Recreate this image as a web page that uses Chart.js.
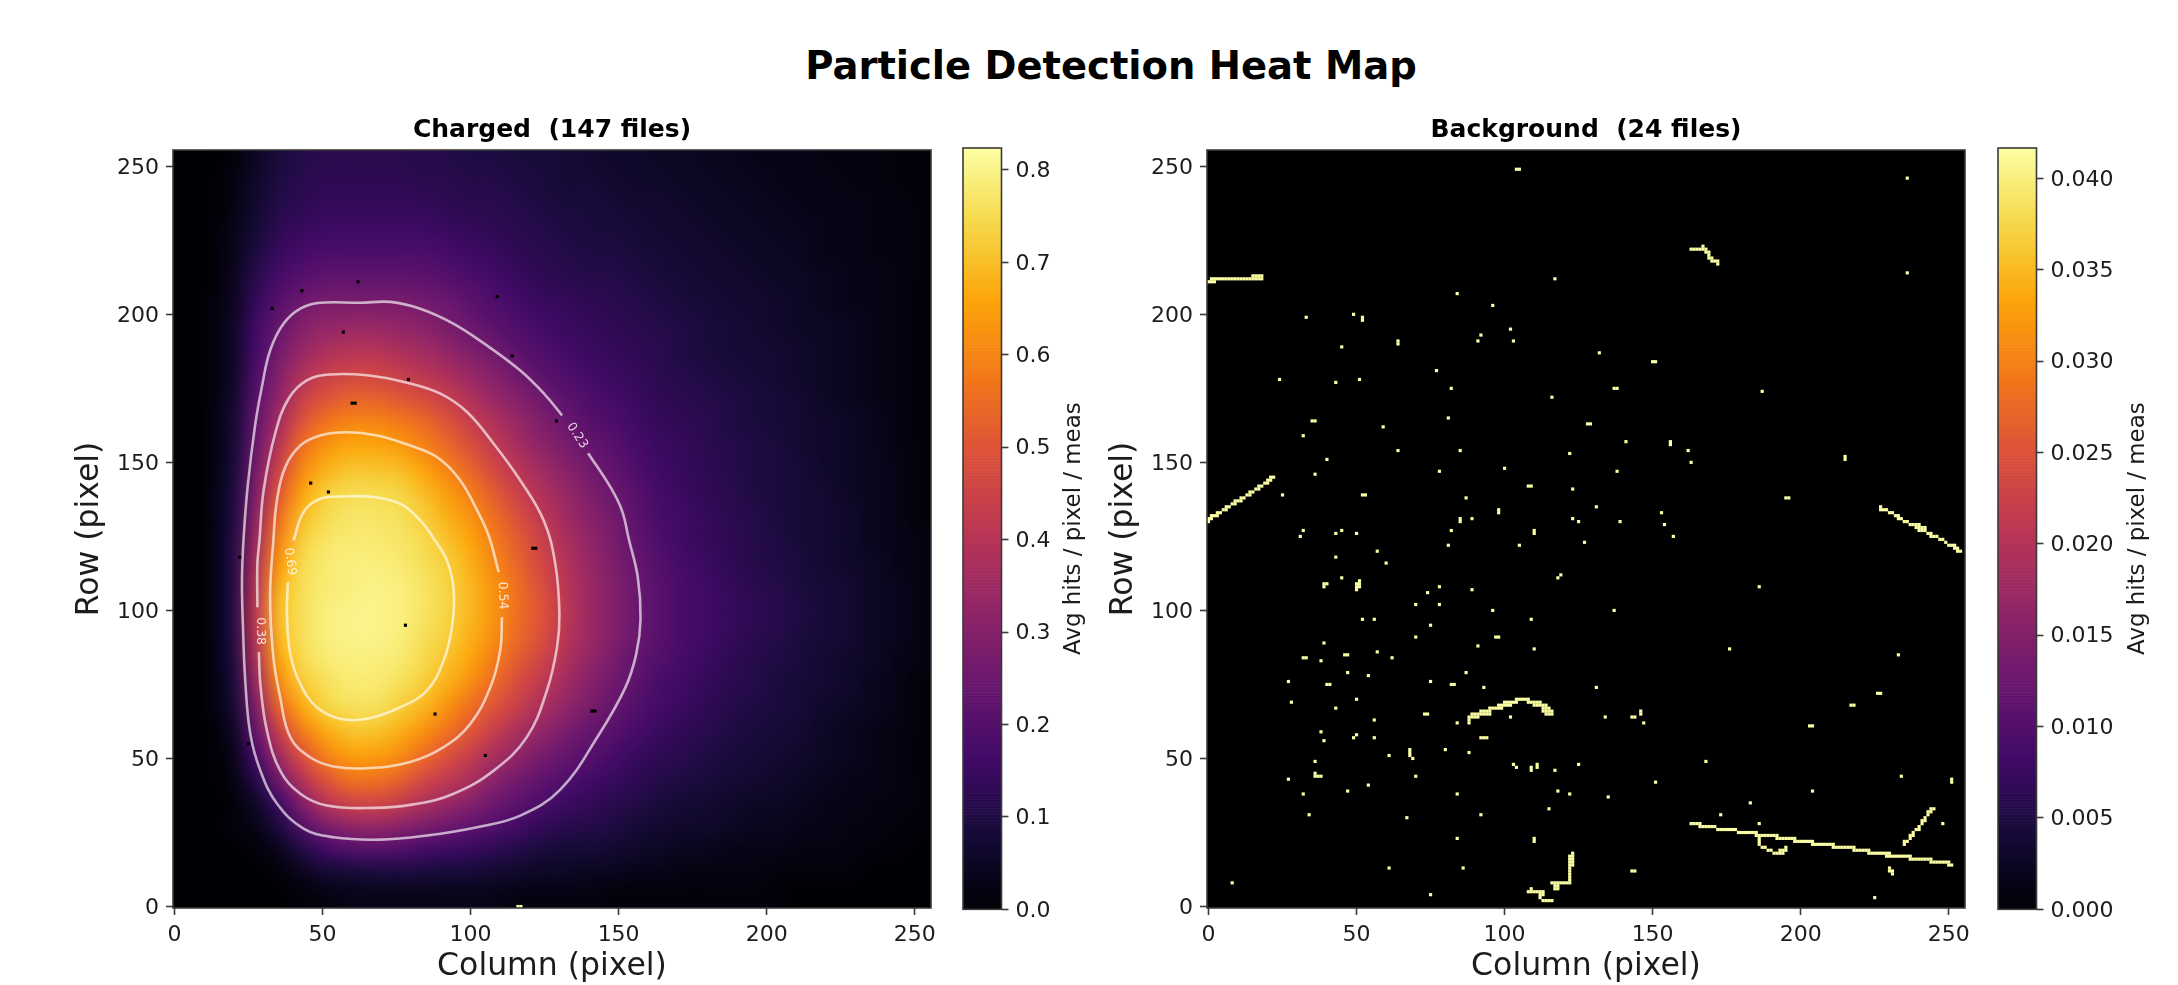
<!DOCTYPE html>
<html><head><meta charset="utf-8">
<style>
html,body{margin:0;padding:0;background:#fff;width:2178px;height:985px;overflow:hidden}
canvas{position:absolute;left:0;top:0}
#sup{position:absolute;left:0;width:2222px;top:43px;text-align:center;font:bold 38.5px "DejaVu Sans";color:#000;line-height:46px}
</style>
<script src="https://cdn.jsdelivr.net/npm/chart.js@4/dist/chart.umd.min.js"></script>
</head><body>
<div id="sup">Particle Detection Heat Map</div>
<canvas id="c1" width="2178" height="985"></canvas>
<canvas id="c2" width="2178" height="985"></canvas>
<canvas id="c3" width="2178" height="985"></canvas>
<canvas id="c4" width="2178" height="985"></canvas>
<script>
const axisTicks=[0,50,100,150,200,250];
const chargedBarTicks=[0,0.1,0.2,0.3,0.4,0.5,0.6,0.7,0.8];
const backgroundBarTicks=[0,0.005,0.01,0.015,0.02,0.025,0.03,0.035,0.04];
const chargedMax=0.8238, backgroundMax=0.04166;
const chargedTitle='Charged  (147 files)', backgroundTitle='Background  (24 files)';
// Estimated mean hits (x100), 8-pixel blocks; first row is the top of the image (row 251.5), first column is column 3.5
const chargedGrid=[
[0,0,1,5,9,11,12,12,12,12,11,11,10,10,9,9,8,7,6,6,5,5,4,4,3,3,3,2,2,2,1,1],
[0,0,2,6,10,12,13,13,13,13,12,12,11,11,10,9,8,8,7,6,6,5,5,4,4,3,3,3,2,2,1,1],
[0,0,2,7,11,13,14,14,14,14,14,13,12,12,11,10,9,9,8,7,7,6,5,5,4,4,3,3,3,2,2,1],
[0,0,3,8,13,15,16,16,16,16,16,15,14,13,12,11,10,9,9,8,7,7,6,5,5,4,4,3,3,2,2,1],
[0,0,3,10,15,18,19,19,19,19,19,18,16,15,13,12,11,10,10,9,8,7,7,6,5,5,4,3,3,2,2,1],
[0,0,4,12,18,21,23,23,23,23,22,21,19,17,15,13,12,11,11,10,9,8,7,7,6,5,5,4,3,3,2,1],
[0,1,4,14,21,26,28,28,28,28,27,25,22,19,17,15,14,13,12,11,10,9,8,7,7,6,5,4,3,3,2,1],
[0,1,5,16,24,30,33,34,34,33,31,28,25,22,19,17,15,14,13,12,11,10,9,8,7,6,5,5,4,3,2,1],
[0,1,5,17,27,34,38,40,40,38,36,33,29,26,22,19,17,15,14,13,12,10,9,8,8,7,6,5,4,3,2,1],
[0,1,5,19,30,39,44,46,46,44,41,38,34,30,26,22,19,17,15,14,12,11,10,9,8,7,6,5,4,3,2,1],
[0,1,6,21,33,44,50,53,53,51,48,44,39,34,30,26,22,19,17,15,13,12,11,10,9,8,7,5,4,3,2,1],
[0,1,7,23,37,50,57,60,60,58,55,50,44,39,34,29,25,21,19,16,14,13,12,10,9,8,7,6,5,4,2,1],
[0,1,7,25,41,56,63,66,66,64,60,55,49,43,37,32,28,24,21,18,15,14,12,11,10,9,7,6,5,4,2,1],
[0,1,8,27,46,61,68,71,71,70,66,60,54,47,41,36,31,27,23,19,16,14,13,11,10,9,8,6,5,4,3,1],
[0,1,9,29,51,66,73,75,75,74,70,65,59,52,45,39,34,29,25,21,17,15,13,12,10,9,8,7,5,4,3,1],
[0,1,9,32,56,70,75,77,77,76,73,68,63,56,49,42,36,31,27,22,18,16,14,12,11,9,8,7,6,4,3,1],
[0,1,10,35,60,73,77,78,78,77,75,71,66,59,52,45,38,33,28,23,19,16,14,13,11,10,8,7,6,4,3,2],
[0,1,10,38,64,75,78,79,79,78,76,73,68,61,54,47,40,34,29,24,20,17,15,13,11,10,9,7,6,5,3,2],
[0,1,10,40,68,76,78,79,80,79,77,74,69,63,56,49,41,35,30,25,21,18,16,14,12,11,9,8,7,5,4,2],
[0,1,10,42,70,76,79,80,80,79,77,74,69,63,56,50,42,35,30,25,21,18,16,14,13,11,10,8,7,5,4,2],
[0,1,10,41,69,76,79,80,80,79,76,73,68,62,55,49,41,35,30,25,21,18,16,14,12,11,9,8,7,5,4,2],
[0,1,9,38,66,75,78,79,79,78,75,71,66,59,52,46,39,33,28,23,20,17,15,13,11,10,9,7,6,5,3,2],
[0,1,8,34,61,72,76,78,78,76,73,68,62,55,48,42,36,31,26,22,18,16,14,12,11,9,8,7,6,4,3,1],
[0,1,7,29,54,67,74,76,76,73,69,63,56,50,44,38,33,28,24,20,17,15,13,11,10,9,8,6,5,4,3,1],
[0,0,5,24,45,59,67,71,71,68,63,57,51,44,38,33,28,24,21,18,15,13,12,10,9,8,7,5,4,3,2,1],
[0,0,3,18,36,50,60,65,65,62,56,50,44,38,33,28,24,21,18,15,13,12,10,9,8,7,6,5,4,3,2,1],
[0,0,2,12,27,41,51,57,57,54,48,43,38,32,27,23,20,17,15,13,11,10,9,8,7,6,5,4,3,3,2,1],
[0,0,1,6,17,31,41,46,47,44,39,35,31,26,22,19,16,14,12,11,9,8,7,6,5,5,4,3,3,2,2,1],
[0,0,1,3,10,21,29,33,34,32,29,26,23,20,17,14,12,11,10,8,7,6,6,5,4,4,3,3,2,2,1,1],
[0,0,0,1,4,11,17,20,21,20,18,16,15,13,11,9,8,8,7,6,5,4,4,3,3,3,2,2,2,1,1,0],
[0,0,0,0,1,4,7,8,9,9,9,8,8,7,6,5,5,4,4,3,3,2,2,2,2,1,1,1,1,0,0,0],
[0,0,0,0,0,1,2,3,3,3,3,3,3,3,2,2,2,2,1,1,1,1,1,1,1,1,0,0,0,0,0,0]
];
const chargedDeadPixels=[[62,211],[43,208],[57,194],[33,202],[114,186],[79,178],[60,170],[61,170],[129,164],[46,143],[52,140],[109,206],[121,121],[122,121],[78,95],[88,65],[105,51],[25,55],[22,118],[141,66],[142,66]];
const chargedHotPixels=[[116,0],[117,0]];
const contour023=[[139.7,153.1],[147.2,141.7],[151.1,133.8],[153.4,124.3],[156.5,111],[157.4,97],[156,85.5],[152.3,74],[143,57.5],[130.3,39.5],[116.8,30.7],[102.2,26.8],[85.3,24],[69.5,22.6],[53.7,23.4],[43.6,26.3],[34.6,34.8],[29,45.9],[25.6,58.4],[23.9,76.4],[23.1,95.5],[22.8,110.1],[23.3,123.6],[24.7,141.7],[27.3,163],[29.5,175.4],[32.3,187.8],[36.8,196.8],[42.5,201.9],[49.2,203.9],[62.7,203.9],[72.9,204.2],[83,201.9],[94.3,196.8],[105.5,189.5],[116.8,181],[125,173],[130.9,165.9]];
const contour038=[[28,101.1],[28,115.8],[28.7,123.6],[30.1,140.5],[34,159.7],[38.5,171.5],[44.7,177.7],[52.6,179.7],[65,179.4],[78.5,176.9],[89.8,173.2],[98.8,167],[107.8,156.3],[116.8,143.9],[124.7,130.4],[128.6,115.8],[130,98.9],[129.2,87.6],[125.8,73],[119,57.2],[107.8,45.9],[94.3,38.1],[80.7,34.5],[67.2,33.3],[51.5,34.1],[42.5,38.1],[35.7,45.9],[31.2,59.5],[29,75.2],[28.5,85.9]];
const contour054=[[110.6,97.7],[110,86.5],[106.7,74.1],[99.9,61.7],[90.9,53.8],[79.6,48.8],[65,46.7],[53.7,47.3],[45.8,50.4],[39.1,57.2],[35.7,70.7],[33.4,84.2],[32.3,104.5],[33.4,123.6],[34.6,137.2],[37.4,148.4],[42.5,155.7],[49.2,159.1],[58.2,160.2],[68.4,159.1],[79.6,155.7],[88.6,151.8],[96.5,143.9],[102.2,133.8],[106.1,125.3],[109.5,112.9]];
const contour069=[[40.2,123.6],[43.6,133.2],[49.2,137.7],[58.2,138.5],[67.2,138.3],[76.3,136],[83,130.4],[88,123.6],[92,116.9],[94.3,106.8],[93.7,94.4],[90.9,83.1],[85.3,73],[76.3,67.3],[65,63.4],[56,63.4],[48.1,67.3],[42.5,75.2],[39.1,85.4],[38,98.9],[38.3,109.6]];
const contourLabels=[['0.23',136,159,57],['0.38',29,93,90],['0.54',110.8,105,88],['0.69',39,116.5,82]];
// Background: isolated hit pixels as [column,row]
const backgroundSpecks=[[104,249],[105,249],[117,212],[84,207],[96,203],[33,199],[49,200],[52,198],[52,199],[64,190],[64,191],[92,193],[102,195],[91,191],[103,191],[45,189],[77,181],[82,175],[24,178],[43,177],[51,178],[116,172],[81,165],[128,163],[129,163],[35,164],[36,164],[32,159],[59,162],[64,154],[85,154],[122,153],[100,148],[40,151],[36,146],[78,147],[108,142],[109,142],[123,141],[25,139],[52,139],[53,139],[87,138],[131,135],[98,133],[98,134],[85,130],[85,131],[89,131],[123,131],[125,130],[82,127],[110,126],[110,127],[32,127],[31,125],[45,127],[43,126],[50,126],[81,122],[105,122],[127,123],[43,118],[57,120],[60,116],[45,111],[39,108],[39,109],[40,109],[51,110],[51,109],[50,109],[50,108],[51,108],[50,107],[118,111],[119,112],[78,108],[89,107],[74,106],[70,102],[78,102],[96,100],[109,97],[52,97],[56,97],[75,95],[70,91],[97,91],[98,91],[110,87],[91,88],[39,89],[32,84],[33,84],[38,83],[46,85],[47,85],[57,86],[62,84],[47,79],[54,78],[87,79],[27,76],[75,76],[40,75],[41,75],[82,75],[83,75],[93,74],[131,74],[28,69],[50,70],[43,67],[73,65],[74,65],[56,63],[84,62],[38,59],[39,56],[49,57],[50,58],[56,57],[92,57],[93,57],[94,57],[80,53],[88,52],[61,51],[68,52],[68,53],[69,50],[68,51],[36,49],[36,44],[36,45],[37,44],[38,44],[27,43],[70,44],[54,41],[47,39],[32,38],[84,38],[34,31],[92,31],[67,30],[84,23],[110,22],[110,23],[61,13],[86,13],[8,8],[75,4],[103,48],[104,47],[109,46],[109,47],[111,47],[111,48],[117,46],[125,48],[118,39],[122,38],[115,33],[95,65],[102,64],
[236,246],[236,214],[132,187],[150,184],[151,184],[137,175],[138,175],[187,174],[141,157],[156,156],[156,157],[162,154],[163,150],[138,147],[215,151],[215,152],[195,138],[196,138],[153,133],[139,130],[154,129],[157,125],[186,108],[137,100],[176,87],[233,85],[226,72],[227,72],[217,68],[218,68],[203,61],[204,61],[146,65],[146,66],[143,64],[144,64],[134,64],[147,62],[168,49],[234,44],[251,42],[251,43],[151,42],[204,39],[135,37],[183,35],[173,31],[186,28],[248,28],[143,12],[144,12],[225,3],[230,12],[231,12],[231,11],[230,13]];
// Background: tracks as [row,firstColumn,lastColumn]
const backgroundRuns=[[211,0,2],[212,1,18],[213,15,18],
[130,0,0],[131,0,1],[132,1,3],[133,3,4],[134,5,6],[135,6,7],[136,8,9],[137,9,11],[138,11,12],[139,13,14],[140,14,15],[141,16,17],[142,17,18],[143,19,20],[144,20,21],[145,21,22],
[62,88,88],[63,88,88],[64,88,91],[65,89,94],[66,92,95],[67,95,99],[68,98,102],[69,100,104],[70,104,108],[69,108,112],[68,110,114],[67,113,115],[66,113,116],[65,114,116],
[18,123,123],[17,122,123],[16,122,123],[15,122,123],[14,122,123],[13,122,122],[12,122,122],[11,122,122],[10,122,122],[9,122,122],[8,116,122],[7,117,118],[6,117,118],
[6,109,109],[5,108,113],[4,112,113],[3,112,112],[2,113,116],
[28,163,166],[27,166,171],[26,172,178],[25,179,185],[24,185,192],[23,192,198],[22,198,204],[21,204,211],[20,211,218],[19,218,223],[18,223,230],[17,229,237],[16,237,244],[15,244,250],[14,250,251],
[23,186,186],[22,186,186],[21,186,186],[20,187,188],[19,189,190],[18,191,194],[19,193,195],[20,195,195],
[21,235,235],[22,235,236],[23,237,237],[24,237,238],[25,238,238],[26,239,240],[27,240,240],[28,241,241],[29,241,242],[30,242,242],[31,243,243],[32,243,244],[33,244,245],
[135,227,227],[134,227,229],[133,230,231],[132,232,233],[131,233,234],[130,235,236],[129,237,240],[128,239,242],[127,240,242],[126,243,244],[125,244,246],[124,247,248],[123,249,249],[122,250,252],[121,252,253],[120,253,254],
[222,163,168],[223,167,167],[221,168,169],[220,169,169],[219,169,170],[218,170,172],[217,172,172]];
const infernoStops=['#000004','#160b39','#420a68','#6a176e','#932667','#bc3754','#dd513a','#f37819','#fca50a','#f6d746','#fcffa4'];

function rgbOf(h){return [1,3,5].map(i=>parseInt(h.substr(i,2),16));}
const stopRgb=infernoStops.map(rgbOf);
function inferno(t){t=Math.max(0,Math.min(1,t))*10;const i=Math.min(9,Math.floor(t)),f=t-i,a=stopRgb[i],b=stopRgb[i+1];
 return [0,1,2].map(k=>Math.round(a[k]+(b[k]-a[k])*f));}
const TEXT='#1c1c1c',SPINE='#3a3a3a',FONT='DejaVu Sans';
const W=2178,H=985,TICKSIZE=22;

const toCell=p=>({x:p[0],y:p[1]});
const chargedCells=[];
chargedGrid.forEach((row,r)=>row.forEach((v,c)=>chargedCells.push({x:8*c+3.5,y:8*(31-r)+3.5,v:v/100})));
const backgroundCells=backgroundSpecks.map(toCell);
backgroundRuns.forEach(([row,a,b])=>{for(let c=a;c<=b;c++)backgroundCells.push({x:c,y:row});});

const heatPlugin={id:'heat',
 beforeDatasetsDraw(chart){const {ctx,chartArea:a}=chart;ctx.save();ctx.fillStyle='#000';ctx.fillRect(a.left,a.top,a.width,a.height);ctx.restore();},
 beforeDatasetDraw(chart,args){
  const ds=chart.data.datasets[args.index];
  if(!ds.heatCells)return;
  const n=32,off=document.createElement('canvas');off.width=n;off.height=n;
  const oc=off.getContext('2d'),img=oc.createImageData(n,n);
  ds.data.forEach(d=>{const c=Math.round((d.x-3.5)/8),r=31-Math.round((d.y-3.5)/8),rgb=inferno(d.v/chargedMax),i=4*(r*n+c);
   img.data[i]=rgb[0];img.data[i+1]=rgb[1];img.data[i+2]=rgb[2];img.data[i+3]=255;});
  oc.putImageData(img,0,0);
  const sx=chart.scales.x,sy=chart.scales.y,l=sx.getPixelForValue(-0.5),r=sx.getPixelForValue(255.5),t=sy.getPixelForValue(255.5),b=sy.getPixelForValue(-0.5);
  const ctx=chart.ctx;ctx.save();ctx.imageSmoothingEnabled=true;ctx.imageSmoothingQuality='high';
  ctx.drawImage(off,l,t,r-l,b-t);ctx.restore();
  return false;
 },
 afterDatasetsDraw(chart,_,opts){
  const {ctx,chartArea:a,scales}=chart;ctx.save();
  (opts.labels||[]).forEach(([txt,x,y,ang])=>{ctx.save();ctx.translate(scales.x.getPixelForValue(x),scales.y.getPixelForValue(y));ctx.rotate(ang*Math.PI/180);
   ctx.font='12.5px "'+FONT+'"';ctx.fillStyle='rgba(255,255,255,0.8)';ctx.textAlign='center';ctx.textBaseline='middle';ctx.fillText(txt,0,0);ctx.restore();});
  ctx.strokeStyle=SPINE;ctx.lineWidth=1.6;ctx.strokeRect(a.left,a.top,a.width,a.height);ctx.restore();
 }};

function cellRadius(c){return c.chart.scales.x.width/256/Math.SQRT2+0.15;}
function contourSet(pts){return {label:'contour',data:pts.map(toCell),showLine:true,borderColor:'rgba(255,255,255,0.65)',borderWidth:2.6,pointRadius:0,tension:0.4,fill:false};}
function heatChart(id,left,title,datasets,labels){
 const right=left+758,top=150,bottom=908;
 return new Chart(document.getElementById(id),{type:'scatter',plugins:[heatPlugin],
  data:{datasets},
  options:{responsive:false,animation:false,events:[],
   layout:{padding:{left:left-99,right:W-right,top:top-32,bottom:H-bottom-76}},
   plugins:{legend:{display:false},tooltip:{enabled:false},
    title:{display:true,text:title,fullSize:false,color:'#000',font:{family:FONT,size:25,weight:'bold',lineHeight:1},padding:{top:0,bottom:7}},
    heat:{labels}},
   scales:{
    x:{type:'linear',min:-0.5,max:255.5,afterBuildTicks:s=>{s.ticks=axisTicks.map(value=>({value}));},afterFit:s=>{s.height=76;},
     grid:{drawOnChartArea:false,tickLength:7,tickWidth:1.6,tickColor:SPINE},border:{display:false},
     ticks:{color:TEXT,font:{family:FONT,size:TICKSIZE},padding:7,maxRotation:0,autoSkip:false,callback:v=>String(v)},
     title:{display:true,text:'Column (pixel)',color:TEXT,font:{family:FONT,size:31.5,lineHeight:1},padding:{top:0,bottom:1}}},
    y:{type:'linear',min:-0.5,max:255.5,afterBuildTicks:s=>{s.ticks=axisTicks.map(value=>({value}));},afterFit:s=>{s.width=99;},
     grid:{drawOnChartArea:false,tickLength:7,tickWidth:1.6,tickColor:SPINE},border:{display:false},
     ticks:{color:TEXT,font:{family:FONT,size:TICKSIZE},padding:7,labelOffset:1.5,autoSkip:false,callback:v=>String(v)},
     title:{display:true,text:'Row (pixel)',color:TEXT,font:{family:FONT,size:31.5,lineHeight:1},padding:{top:0,bottom:0}}}
   }}});
}

const barPlugin={id:'cbar',
 beforeDatasetsDraw(chart,_,opts){const {ctx,chartArea:a,scales:{y}}=chart;ctx.save();
  for(let i=0;i<256;i++){const lo=opts.max*i/256,hi=opts.max*(i+1)/256,c=inferno((i+0.5)/256);
   const t=y.getPixelForValue(hi),b=y.getPixelForValue(lo);ctx.fillStyle='rgb('+c.join(',')+')';ctx.fillRect(a.left,t,a.width,b-t+0.6);}
  ctx.restore();},
 afterDatasetsDraw(chart,_,opts){const {ctx,chartArea:a}=chart;ctx.save();ctx.strokeStyle=SPINE;ctx.lineWidth=1.6;ctx.strokeRect(a.left,a.top,a.width,a.height);
  ctx.translate(opts.labelX,(a.top+a.bottom)/2);ctx.rotate(-Math.PI/2);ctx.font='22.9px "'+FONT+'"';ctx.fillStyle=TEXT;ctx.textAlign='center';ctx.textBaseline='middle';ctx.fillText('Avg hits / pixel / meas',0,0);ctx.restore();}};
function barChart(id,left,max,ticks,digits,labelX){
 const right=left+38.5,top=148,bottom=909.3;
 return new Chart(document.getElementById(id),{type:'scatter',plugins:[barPlugin],data:{datasets:[{label:'colour scale',data:[]}]},
  options:{responsive:false,animation:false,events:[],
   layout:{padding:{left:left,right:W-right-100,top:top,bottom:H-bottom}},
   plugins:{legend:{display:false},tooltip:{enabled:false},cbar:{max,labelX}},
   scales:{x:{display:false,min:0,max:1},
    y:{type:'linear',position:'right',min:0,max,afterBuildTicks:s=>{s.ticks=ticks.map(value=>({value}));},afterFit:s=>{s.width=100;},
     grid:{drawOnChartArea:false,tickLength:7,tickWidth:1.6,tickColor:SPINE},border:{display:false},
     ticks:{color:TEXT,font:{family:FONT,size:TICKSIZE},padding:7,labelOffset:1.5,autoSkip:false,callback:v=>Number(v).toFixed(digits)}}}}});
}

heatChart('c1',173,chargedTitle,[
 {label:'dead pixels',data:chargedDeadPixels.map(toCell),pointStyle:'rect',pointRadius:cellRadius,backgroundColor:'#000',borderWidth:0},
 {label:'hot pixels',data:chargedHotPixels.map(toCell),pointStyle:'rect',pointRadius:cellRadius,backgroundColor:'#fcffa4',borderWidth:0},
 contourSet(contour023),contourSet(contour038),contourSet(contour054),contourSet(contour069),
 {label:'Charged',heatCells:true,data:chargedCells,pointRadius:0}
],contourLabels);
heatChart('c2',1207,backgroundTitle,[
 {label:'Background',data:backgroundCells,pointStyle:'rect',pointRadius:cellRadius,backgroundColor:'#fcffa4',borderWidth:0}
],[]);
barChart('c3',963,chargedMax,chargedBarTicks,1,1074);
barChart('c4',1998,backgroundMax,backgroundBarTicks,3,2138);
</script>
</body></html>
